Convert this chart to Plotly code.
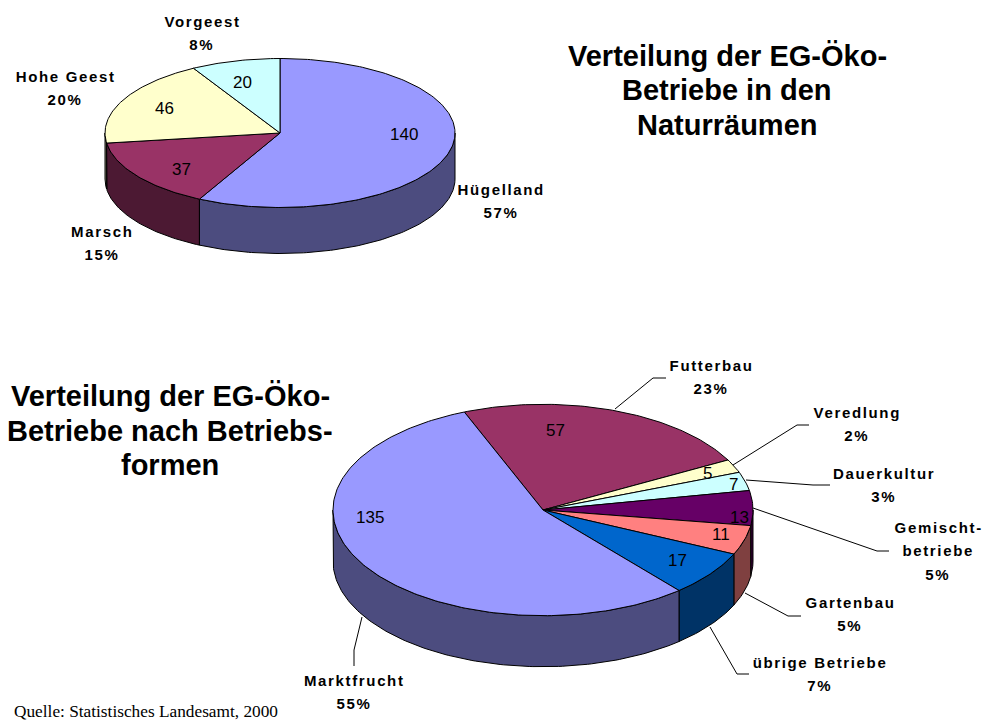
"""Two tilted pie charts of organic farms, drawn with plotly scatter polygons."""

import numpy as np
from plotly import graph_objects as go

# top chart
region_names = ["Hügelland", "Marsch", "Hohe Geest", "Vorgeest"]
region_values = [140, 37, 46, 20]
region_percents = ["57%", "15%", "20%", "8%"]
region_colors = ["#9999FF", "#993366", "#FFFFCC", "#CCFFFF"]

# bottom chart
form_names = [
    "Futterbau",
    "Veredlung",
    "Dauerkultur",
    "Gemischt-<br>betriebe",
    "Gartenbau",
    "übrige Betriebe",
    "Marktfrucht",
]
form_values = [57, 5, 7, 13, 11, 17, 135]
form_percents = ["23%", "2%", "3%", "5%", "5%", "7%", "55%"]
form_colors = ["#993366", "#FFFFCC", "#CCFFFF", "#660066", "#FF8080", "#0066CC", "#9999FF"]

title_top = ["Verteilung der EG-Öko-", "Betriebe in den", "Naturräumen"]
title_bottom = ["Verteilung der EG-Öko-", "Betriebe nach Betriebs-", "formen"]
source = "Quelle: Statistisches Landesamt, 2000"

# layout, in window pixels
PIE_TOP = {"cx": 280, "cy": 133, "rx": 175, "ry": 74.5, "depth": 46, "start": 0}
PIE_BOTTOM = {"cx": 543, "cy": 510, "rx": 210, "ry": 105.7, "depth": 51, "start": 338}

region_label_pos = [(501, 189), (102, 231), (65, 76), (202, 21)]
form_label_pos = [
    (711, 365),
    (857, 412),
    (884, 473),
    (938, 527),
    (850, 602),
    (820, 662),
    (354, 680),
]
region_value_pos = [(404, 134), (181, 169), (164, 108), (242, 82)]
form_value_pos = [
    (555, 430),
    (707, 473),
    (733, 484),
    (739, 517),
    (721, 534),
    (677, 560),
    (370, 517),
]
leaders = [
    [(615, 409), (653, 378), (666, 378)],
    [(733, 465), (797, 425), (809, 425)],
    [(746, 480), (813, 485), (830, 485)],
    [(753, 508), (877, 551), (889, 551)],
    [(745, 593), (788, 616), (801, 616)],
    [(710, 627), (737, 674), (749, 674)],
    [(362, 617), (354, 650), (354, 666)],
]
LINE_STEP = 23.5


def darken(color: str) -> str:
    """Return the half-bright colour used on the pie's side wall."""
    channels = [int(color[i : i + 2], 16) // 2 for i in (1, 3, 5)]
    return "#{:02X}{:02X}{:02X}".format(*channels)


def rim(pie: dict, a0: float, a1: float, drop: float = 0) -> tuple[np.ndarray, np.ndarray]:
    """Return rim points between two clockwise angles, measured from 12 o'clock."""
    angles = np.radians(np.linspace(a0, a1, max(int(abs(a1 - a0)), 2) + 1))
    x = pie["cx"] + pie["rx"] * np.sin(angles)
    y = pie["cy"] - pie["ry"] * np.cos(angles) + drop
    return x, y


def polygon(fig: go.Figure, x, y, color: str) -> None:
    """Add one filled, outlined polygon."""
    fig.add_trace(
        go.Scatter(
            x=x,
            y=y,
            mode="lines",
            fill="toself",
            fillcolor=color,
            line={"color": "black", "width": 1},
            hoverinfo="skip",
            showlegend=False,
        )
    )


def add_pie(fig: go.Figure, pie: dict, values: list[int], colors: list[str]) -> None:
    """Draw side walls, then the top faces, of one tilted pie."""
    edges = pie["start"] + np.cumsum([0] + values) / sum(values) * 360
    spans = list(zip(edges[:-1], edges[1:], colors))

    # only the front half of the wall (90 to 270 degrees) can be seen
    walls = []
    for a0, a1, color in spans:
        for turn in (0, 360):
            lo, hi = max(a0 - turn, 90), min(a1 - turn, 270)
            if lo < hi:
                walls.append((lo, hi, color))
    for lo, hi, color in sorted(walls, key=lambda w: abs((w[0] + w[1]) / 2 - 180), reverse=True):
        x, y = rim(pie, lo, hi)
        x2, y2 = rim(pie, hi, lo, pie["depth"])
        polygon(fig, np.r_[x, x2, x[0]], np.r_[y, y2, y[0]], darken(color))

    for a0, a1, color in spans:
        x, y = rim(pie, a0, a1)
        polygon(fig, np.r_[pie["cx"], x, pie["cx"]], np.r_[pie["cy"], y, pie["cy"]], color)


def add_text(fig, x, y, text, size, bold=False, family="Liberation Sans", anchor="center"):
    """Add one line of text at a pixel position."""
    fig.add_annotation(
        x=x,
        y=y,
        text=text,
        showarrow=False,
        xanchor=anchor,
        yanchor="middle",
        font={
            "family": family,
            "size": size,
            "color": "black",
            "weight": "bold" if bold else "normal",
        },
    )


def add_labels(fig, names, percents, positions) -> None:
    """Add the bold category and percentage labels, one annotation per line."""
    for name, percent, (x, y) in zip(names, percents, positions):
        lines = name.split("<br>") + [percent]
        for i, line in enumerate(lines):
            add_text(fig, x, y + i * LINE_STEP, line, 15, bold=True)


fig = go.Figure()
add_pie(fig, PIE_TOP, region_values, region_colors)
add_pie(fig, PIE_BOTTOM, form_values, form_colors)

for points in leaders:
    xs, ys = zip(*points)
    fig.add_trace(
        go.Scatter(
            x=xs,
            y=ys,
            mode="lines",
            line={"color": "black", "width": 1},
            hoverinfo="skip",
            showlegend=False,
        )
    )

add_labels(fig, region_names, region_percents, region_label_pos)
add_labels(fig, form_names, form_percents, form_label_pos)

for value, (x, y) in zip(region_values, region_value_pos):
    add_text(fig, x, y, str(value), 17)
for value, (x, y) in zip(form_values, form_value_pos):
    add_text(fig, x, y, str(value), 17)

for i, line in enumerate(title_top):
    add_text(fig, 727, 55.5 + i * 34.5, line, 29, bold=True)
for i, line in enumerate(title_bottom):
    add_text(fig, 170, 396 + i * 34.5, line, 29, bold=True)
add_text(fig, 12, 711, source, 17.3, family="Liberation Serif", anchor="left")

fig.update_layout(
    width=985,
    height=720,
    margin={"l": 0, "r": 0, "b": 0, "t": 0},
    paper_bgcolor="white",
    plot_bgcolor="white",
    showlegend=False,
)
fig.update_xaxes(range=[0, 985], visible=False, fixedrange=True)
fig.update_yaxes(range=[720, 0], visible=False, fixedrange=True)

# drop the page margin; the category labels have wide letter spacing in the original
page_fix = """
document.body.style.margin = '0';
document.querySelectorAll('.annotation-text').forEach(function (t) {
  if (t.style.fontSize === '15px') { t.style.letterSpacing = '1.65px'; }
});
"""
fig.write_html("out.html", post_script=page_fix, config={"displayModeBar": False})
